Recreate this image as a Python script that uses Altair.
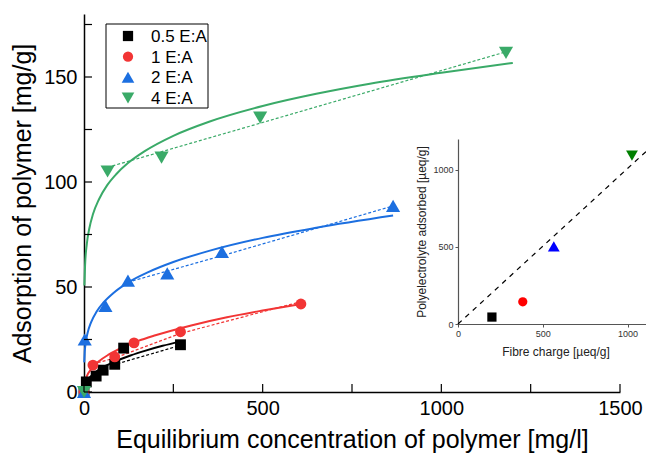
import altair as alt
import pandas as pd

# ---------------- data ----------------
series_names = ["0.5 E:A", "1 E:A", "2 E:A", "4 E:A"]
main_colors = ["#000000", "#f23535", "#1c6fe0", "#3aaa68"]
inset_colors = ["#000000", "#ff0000", "#0000ff", "#008000"]
shapes = ["square", "circle", "triangle-up", "triangle-down"]

# measured points (equilibrium concentration mg/l, adsorption mg/g)
conc_05 = [0, 6.5, 34, 53.5, 86, 111, 270]
ads_05 = [0, 4.8, 7.6, 10.4, 13.2, 20.9, 22.5]
conc_1 = [0, 25, 86, 140, 270, 607]
ads_1 = [0, 12.8, 16.7, 23.4, 28.7, 41.9]
conc_2 = [0, 2, 60, 123, 233, 386, 865]
ads_2 = [0, 25, 41, 53, 56.5, 66.7, 88.6]
conc_4 = [0, 66, 217, 493, 1181]
ads_4 = [0, 105, 111.6, 130.6, 161.5]

# fitted curves (solid)
fit_x_05 = [0, 1, 3, 8, 15, 25, 40, 60, 86, 130, 170, 220, 268]
fit_y_05 = [0, 2.0, 3.3, 5.1, 6.7, 8.4, 10.4, 12.4, 14.5, 17.4, 19.6, 22.0, 24.0]
fit_x_1 = [0, 1, 3, 8, 20, 40, 70, 100, 150, 200, 300, 400, 500, 607]
fit_y_1 = [0, 3.4, 5.2, 7.6, 10.9, 14.4, 17.9, 20.6, 24.2, 27.0, 31.7, 35.6, 38.8, 41.9]
fit_x_2 = [0.6, 2, 5, 10, 20, 35, 54, 80, 124, 180, 250, 350, 500, 650, 865]
fit_y_2 = [14.1, 19.0, 23.7, 28.1, 33.3, 38.2, 42.5, 46.8, 52.2, 57.1, 61.9, 67.2, 73.4, 78.2, 84.0]
fit_x_4 = [1, 3, 8, 15, 25, 42, 65, 90, 123, 170, 250, 350, 500, 650, 800, 1000, 1200]
fit_y_4 = [50.7, 60.4, 70.6, 78.0, 84.6, 91.8, 98.5, 103.7, 109.0, 114.7, 122.0, 128.7,
           136.2, 142.0, 146.8, 152.0, 156.7]

# dashed trend lines
dash_x_05 = [80, 270]
dash_y_05 = [12.8, 22.2]
dash_x_1 = [25, 86, 270, 607]
dash_y_1 = [13.3, 16.2, 27.9, 43.0]
dash_x_2 = [123, 409, 865]
dash_y_2 = [52.3, 66.0, 88.6]
dash_x_4 = [66, 493, 1181]
dash_y_4 = [107, 128, 162]

# inset: fibre charge vs polyelectrolyte adsorbed (µeq/g)
inset_charge = [200, 382, 565, 1026]
inset_adsorbed = [45, 144, 503, 1092]
diag_x = [0, 1150]
diag_y = [0, 1160]

x_ticks = [0, 250, 500, 750, 1000, 1250, 1500]
y_ticks = [0, 25, 50, 75, 100, 125, 150, 175]

FONT = "Liberation Sans"


def frame(xs, ys, name):
    return pd.DataFrame({"x": xs, "y": ys, "series": name})


pts = pd.concat([frame(conc_05, ads_05, series_names[0]),
                 frame(conc_1, ads_1, series_names[1]),
                 frame(conc_2, ads_2, series_names[2]),
                 frame(conc_4, ads_4, series_names[3])], ignore_index=True)
pts["order"] = pts["series"].map({n: i for i, n in enumerate(series_names)})
fits = pd.concat([frame(fit_x_05, fit_y_05, series_names[0]),
                  frame(fit_x_1, fit_y_1, series_names[1]),
                  frame(fit_x_2, fit_y_2, series_names[2]),
                  frame(fit_x_4, fit_y_4, series_names[3])], ignore_index=True)
dashes = pd.concat([frame(dash_x_05, dash_y_05, series_names[0]),
                    frame(dash_x_1, dash_y_1, series_names[1]),
                    frame(dash_x_2, dash_y_2, series_names[2]),
                    frame(dash_x_4, dash_y_4, series_names[3])], ignore_index=True)
inset_df = pd.DataFrame({"x": inset_charge, "y": inset_adsorbed, "series": series_names})
diag_df = pd.DataFrame({"x": diag_x, "y": diag_y})
xt_df = pd.DataFrame({"x": x_ticks})
yt_df = pd.DataFrame({"y": y_ticks})
leg_df = pd.DataFrame({"series": series_names})

sq_circ = alt.FieldOneOfPredicate(field="series", oneOf=series_names[:2])
triangles = alt.FieldOneOfPredicate(field="series", oneOf=series_names[2:])

# ---------------- main chart ----------------
xs = alt.Scale(domain=[0, 1500], nice=False, zero=False)
ys = alt.Scale(domain=[0, 180], nice=False, zero=False)
x_axis = alt.Axis(values=[0, 500, 1000, 1500], format="d", labelFlush=False,
                  ticks=False, grid=False,
                  domainColor="black", domainWidth=1.5, labelFont=FONT,
                  labelFontSize=20, labelColor="black", labelPadding=6,
                  title="Equilibrium concentration of polymer [mg/l]",
                  titleFont=FONT, titleFontSize=25, titleFontWeight="normal",
                  titleColor="black", titlePadding=9, orient="bottom")
y_axis = alt.Axis(values=[0, 50, 100, 150], format="d", labelFlush=False,
                  ticks=False, grid=False,
                  domainColor="black", domainWidth=1.5, labelFont=FONT,
                  labelFontSize=20, labelColor="black", labelPadding=7,
                  title="Adsorption of polymer [mg/g]",
                  titleFont=FONT, titleFontSize=25, titleFontWeight="normal",
                  titleColor="black", titlePadding=8, orient="left")
X = alt.X("x:Q", scale=xs, axis=x_axis)
Y = alt.Y("y:Q", scale=ys, axis=y_axis)

stroke = alt.Stroke("series:N", scale=alt.Scale(domain=series_names, range=main_colors), legend=None)
color = alt.Color("series:N", scale=alt.Scale(domain=series_names, range=main_colors), legend=None)
shape = alt.Shape("series:N", scale=alt.Scale(domain=series_names, range=shapes), legend=None)

fit_layer = alt.Chart(fits).mark_line(strokeWidth=2, interpolate="monotone").encode(
    x=X, y=Y, stroke=stroke, detail="series:N")
dash_layer = alt.Chart(dashes).mark_line(strokeWidth=1.2, strokeDash=[3, 2]).encode(
    x=X, y=Y, stroke=stroke, detail="series:N")
pt_sc = alt.Chart(pts).transform_filter(sq_circ).mark_point(
    filled=True, size=118, opacity=1).encode(
    x=X, y=Y, color=color, shape=shape, order="order:Q")
pt_tri = alt.Chart(pts).transform_filter(triangles).mark_point(
    filled=True, size=200, opacity=1).encode(
    x=X, y=Y, color=color, shape=shape, order="order:Q")
xtick_layer = alt.Chart(xt_df).mark_rule(color="black", strokeWidth=1.2).encode(
    x=X, y=alt.value(378), y2=alt.value(370))
ytick_layer = alt.Chart(yt_df).mark_rule(color="black", strokeWidth=1.2).encode(
    y=Y, x=alt.value(0), x2=alt.value(8))

main = alt.layer(fit_layer, dash_layer, pt_sc, pt_tri, xtick_layer, ytick_layer)

# ---------------- legend (boxed, top-left) ----------------
leg_y = alt.Y("series:N", axis=None,
              scale=alt.Scale(type="point", domain=series_names, range=[22, 84], padding=0))
leg_box = alt.Chart(pd.DataFrame({"box": [0]})).mark_rect(
    fill="white", stroke="black", strokeWidth=1).encode(
    x=alt.value(22), x2=alt.value(124), y=alt.value(10), y2=alt.value(94))
leg_sym_sc = alt.Chart(leg_df).transform_filter(sq_circ).mark_point(
    filled=True, size=105, opacity=1).encode(x=alt.value(44), y=leg_y, color=color, shape=shape)
leg_sym_tri = alt.Chart(leg_df).transform_filter(triangles).mark_point(
    filled=True, size=160, opacity=1).encode(x=alt.value(44), y=leg_y, color=color, shape=shape)
leg_txt = alt.Chart(leg_df).mark_text(align="left", baseline="middle", font=FONT,
                                      fontSize=17, color="black", dy=1).encode(
    x=alt.value(67), y=leg_y, text="series:N")
legend_layer = alt.layer(leg_box, leg_sym_sc, leg_sym_tri, leg_txt)

# ---------------- inset ----------------
ixs = alt.Scale(domain=[0, 1150], range=[374, 569], nice=False, zero=False)
iys = alt.Scale(domain=[0, 1200], range=[310, 125], nice=False, zero=False)
ix_axis = alt.Axis(orient="bottom", offset=-68, values=[0, 500, 1000], format="d",
                   labelFlush=False, grid=False,
                   domainColor="#555555", domainWidth=1.2, tickColor="#555555",
                   tickSize=3, labelFont=FONT, labelFontSize=9, labelColor="#333333",
                   labelPadding=2, title="Fibre charge [µeq/g]", titleFont=FONT,
                   titleFontSize=12, titleFontWeight="normal", titleColor="#222222",
                   titlePadding=8)
iy_axis = alt.Axis(orient="left", offset=-374, values=[0, 500, 1000], format="d",
                   labelFlush=False, grid=False,
                   domainColor="#555555", domainWidth=1.2, tickColor="#555555",
                   tickSize=3, labelFont=FONT, labelFontSize=9, labelColor="#333333",
                   labelPadding=2, title="Polyelectrolyte adsorbed [µeq/g]",
                   titleFont=FONT, titleFontSize=12, titleFontWeight="normal",
                   titleColor="#222222", titlePadding=4)
IX = alt.X("x:Q", scale=ixs, axis=ix_axis)
IY = alt.Y("y:Q", scale=iys, axis=iy_axis)
inset_fill = alt.Fill("series:N", scale=alt.Scale(domain=series_names, range=inset_colors), legend=None)

diag_layer = alt.Chart(diag_df).mark_line(color="black", strokeWidth=1.2, strokeDash=[5, 5]).encode(
    x=IX, y=IY)
inset_sq_circ = alt.Chart(inset_df).transform_filter(sq_circ).mark_point(
    filled=True, size=85, opacity=1).encode(x=IX, y=IY, fill=inset_fill, shape=shape)
inset_tri = alt.Chart(inset_df).transform_filter(triangles).mark_point(
    filled=True, size=140, opacity=1).encode(x=IX, y=IY, fill=inset_fill, shape=shape)
inset = alt.layer(diag_layer, inset_sq_circ, inset_tri)

chart = alt.layer(main, inset, legend_layer).resolve_scale(
    x="independent", y="independent"
).properties(
    width=536, height=378, autosize=alt.AutoSizeParams(type="none"),
    padding={"left": 76, "top": 6, "right": 26, "bottom": 61},
    background="white"
).configure_view(stroke=None)

chart.save("out.html", embed_options={"renderer": "svg", "actions": False})
